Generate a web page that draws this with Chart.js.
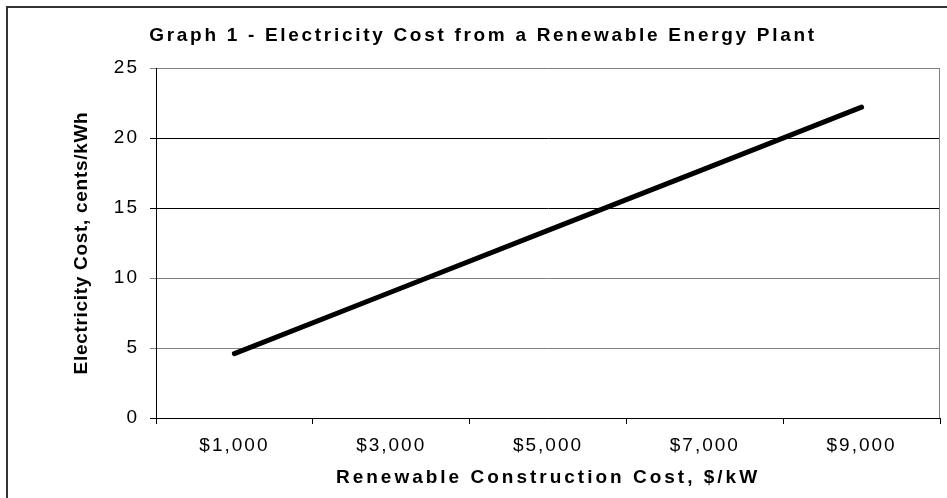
<!DOCTYPE html>
<html>
<head>
<meta charset="utf-8">
<script src="https://cdn.jsdelivr.net/npm/chart.js@4.4.1/dist/chart.umd.min.js"></script>
<style>
  html, body { margin: 0; padding: 0; background: #ffffff; }
  #wrap { width: 947px; height: 498px; position: relative; }
</style>
</head>
<body>
<div id="wrap"><canvas id="chart" width="947" height="498"></canvas></div>
<script>
// Construction cost categories ($/kW) and resulting electricity cost (cents/kWh)
const categories = ['$1,000', '$3,000', '$5,000', '$7,000', '$9,000'];
const electricityCost = [4.6, 9.0, 13.4, 17.8, 22.2];
const yTicks = [0, 5, 10, 15, 20, 25];

const FONT = "'Liberation Sans', Arial, Helvetica, sans-serif";

// Wrap a drawing method so its text is rendered with extra letter spacing
function spaced(chart, obj, name, spacing) {
  if (!obj || !obj[name] || obj[name].__spaced) return;
  const orig = obj[name];
  const fn = function (...args) {
    const c = chart.ctx;
    const prev = c.letterSpacing;
    c.letterSpacing = spacing;
    try { return orig.apply(this, args); } finally { c.letterSpacing = prev; }
  };
  fn.__spaced = true;
  obj[name] = fn;
}

const framePlugin = {
  id: 'frame',
  beforeDraw(chart) {
    const ctx = chart.ctx;
    ctx.save();
    ctx.fillStyle = '#ffffff';
    ctx.fillRect(0, 0, chart.width, chart.height);
    // outer chart border (left and top edges)
    ctx.strokeStyle = '#333333';
    ctx.lineWidth = 2;
    ctx.beginPath();
    ctx.moveTo(7, chart.height);
    ctx.lineTo(7, 7);
    ctx.lineTo(chart.width, 7);
    ctx.stroke();
    ctx.restore();

    spaced(chart, chart.titleBlock, 'draw', '2.7px');
    spaced(chart, chart.scales.x, 'drawLabels', '2px');
    spaced(chart, chart.scales.x, 'drawTitle', '3px');
    spaced(chart, chart.scales.y, 'drawLabels', '2px');
    spaced(chart, chart.scales.y, 'drawTitle', '0.7px');
  },
  beforeDatasetsDraw(chart) {
    // right edge of the plot area
    const { top, bottom, right } = chart.chartArea;
    const ctx = chart.ctx;
    ctx.save();
    ctx.strokeStyle = '#808080';
    ctx.lineWidth = 1;
    ctx.beginPath();
    ctx.moveTo(Math.round(right) - 0.5, top);
    ctx.lineTo(Math.round(right) - 0.5, bottom);
    ctx.stroke();
    ctx.restore();
  }
};

const gridColour = (ctx) => {
  const v = ctx.tick && ctx.tick.value;
  if (v === 15 || v === 20 || v === 0) return '#000000';
  return '#808080';
};

new Chart(document.getElementById('chart'), {
  type: 'line',
  data: {
    labels: categories,
    datasets: [{
      data: electricityCost,
      borderColor: '#000000',
      borderWidth: 5,
      borderCapStyle: 'round',
      borderJoinStyle: 'round',
      pointRadius: 0,
      tension: 0,
      fill: false
    }]
  },
  options: {
    responsive: false,
    animation: false,
    devicePixelRatio: 1,
    layout: { padding: { left: 26, top: 8, right: 7, bottom: 0 } },
    plugins: {
      legend: { display: false },
      tooltip: { enabled: false },
      title: {
        display: true,
        text: 'Graph 1 - Electricity Cost from a Renewable Energy Plant',
        color: '#000000',
        font: { family: FONT, size: 19, weight: 'bold' },
        padding: { top: 16, bottom: 21.2 }
      }
    },
    scales: {
      x: {
        type: 'category',
        offset: true,
        grid: {
          offset: true,
          drawOnChartArea: false,
          drawTicks: true,
          tickLength: 6,
          color: '#000000'
        },
        border: { display: true, color: '#000000', width: 1 },
        ticks: {
          color: '#000000',
          font: { family: FONT, size: 19 },
          padding: 10,
          maxRotation: 0,
          autoSkip: false
        },
        title: {
          display: true,
          text: 'Renewable Construction Cost, $/kW',
          color: '#000000',
          font: { family: FONT, size: 19, weight: 'bold' },
          padding: { top: 0, bottom: 8.5 }
        },
        afterFit(scale) { scale.height = 80; }
      },
      y: {
        min: 0,
        max: 25,
        afterBuildTicks(scale) { scale.ticks = yTicks.map(v => ({ value: v })); },
        grid: {
          color: gridColour,
          tickColor: gridColour,
          tickLength: 6,
          drawTicks: true
        },
        border: { display: true, color: '#000000', width: 1 },
        ticks: {
          color: '#000000',
          font: { family: FONT, size: 19 },
          padding: 11
        },
        title: {
          display: true,
          text: 'Electricity Cost, cents/kWh',
          color: '#000000',
          font: { family: FONT, size: 19, weight: 'bold' },
          padding: { top: 44.5, bottom: 0 }
        },
        afterFit(scale) { scale.width = 130; }
      }
    }
  },
  plugins: [framePlugin]
});
</script>
</body>
</html>
